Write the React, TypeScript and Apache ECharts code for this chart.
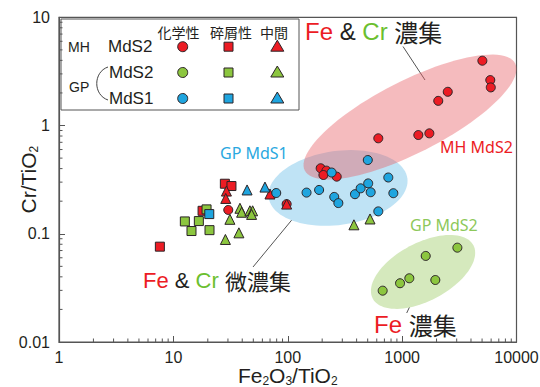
import React, { useEffect, useRef } from 'react';
import * as echarts from 'echarts';

const RED = '#ec1c24';
const GREEN = '#8cc63f';
const BLUE = '#1fa5df';
const EDGE = '#2b2326';
const LATIN = "'Liberation Sans', 'Noto Sans CJK JP', sans-serif";
const CJK = "'Noto Sans CJK JP', 'Liberation Sans', sans-serif";

const xTickLabels = ['1', '10', '100', '1000', '10000'];
const yTickLabels = ['0.01', '0.1', '1', '10'];

// [Fe2O3/TiO2, Cr/TiO2]
const mhMdS2Chemical = [
  [30.2, 0.166], [97.8, 0.188], [194, 0.403], [218, 0.383], [205, 0.349], [268, 0.337],
  [619, 0.762], [1386, 0.817], [1730, 0.847], [2070, 1.69], [2506, 2.05], [5030, 3.97],
  [5900, 2.63], [5960, 2.25],
];
const mhMdS2Detrital = [[7.62, 0.076], [18.0, 0.163], [28.2, 0.29], [32.2, 0.276]];
const mhMdS2Intermediate = [[29.1, 0.248], [28.7, 0.212], [69.9, 0.233], [97.8, 0.188]];

const gpMdS2Chemical = [[676, 0.0298], [959, 0.0349], [1156, 0.0388], [1608, 0.0624], [1951, 0.0374], [3041, 0.0744]];
const gpMdS2Detrital = [[12.6, 0.13], [16.7, 0.131], [14.4, 0.106], [20.7, 0.108], [19.5, 0.168]];
const gpMdS2Intermediate = [
  [31.2, 0.136], [28.5, 0.0886], [37.4, 0.102], [38.2, 0.172], [39.5, 0.158], [46.7, 0.163],
  [49.3, 0.163], [48.3, 0.151], [379, 0.121], [524, 0.137],
];

const gpMdS1Chemical = [
  [79.3, 0.238], [146, 0.24], [188, 0.254], [242, 0.368], [255, 0.219], [277, 0.192], [387, 0.232],
  [434, 0.263], [505, 0.292], [531, 0.242], [501, 0.48], [757, 0.331], [838, 0.237], [619, 0.161],
];
const gpMdS1Detrital = [[20.6, 0.152]];
const gpMdS1Intermediate = [[44.1, 0.254], [63.2, 0.27]];

// ellipse: centre, end of one semi-axis, end of the conjugate semi-axis (data units)
const mhMdS2Ellipse = [1172, 1.198, 9746, 3.745, 1629, 0.605];
const gpMdS1Ellipse = [275, 0.265, 1111, 0.3255, 305, 0.1216];
const gpMdS2Ellipse = [1524, 0.0444, 4198, 0.0783, 2004, 0.02576];

const xDecades = [1, 10, 100, 1000];
const yDecades = [0.01, 0.1, 1];
const minorSteps = [2, 3, 4, 5, 6, 7, 8, 9];

function tickLabel(labels: string[], base: number) {
  return (v: number) => {
    const i = Math.round(Math.log10(v)) - base;
    return labels[i] ?? '';
  };
}

function ellipseSeries(values: number[], fill: string, z: number) {
  return {
    type: 'custom',
    silent: true,
    z,
    clip: false,
    dimensions: ['cx', 'cy', 'mx', 'my', 'nx', 'ny'],
    encode: { x: [0, 2, 4], y: [1, 3, 5] },
    data: [values],
    renderItem: (_p: any, api: any) => {
      const c = api.coord([api.value(0), api.value(1)]);
      const m = api.coord([api.value(2), api.value(3)]);
      const n = api.coord([api.value(4), api.value(5)]);
      const pts: number[][] = [];
      for (let i = 0; i < 96; i++) {
        const t = (i / 96) * Math.PI * 2;
        pts.push([
          c[0] + Math.cos(t) * (m[0] - c[0]) + Math.sin(t) * (n[0] - c[0]),
          c[1] + Math.cos(t) * (m[1] - c[1]) + Math.sin(t) * (n[1] - c[1]),
        ]);
      }
      return { type: 'polygon', shape: { points: pts }, style: { fill } };
    },
  };
}

function scatterSeries(data: number[][], symbol: string, color: string, size: number, z: number) {
  return {
    type: 'scatter',
    data,
    symbol,
    symbolSize: size,
    z,
    silent: true,
    itemStyle: { color, borderColor: EDGE, borderWidth: 1, opacity: 1 },
  };
}

export default function App() {
  const ref = useRef<HTMLDivElement>(null);
  useEffect(() => {
    const chart = echarts.init(ref.current!, null, { renderer: 'svg' });

    const xMinor: number[][] = [];
    xDecades.forEach((d) => minorSteps.forEach((s) => xMinor.push([d * s, 0.01])));
    const yMinor: number[][] = [];
    yDecades.forEach((d) => minorSteps.forEach((s) => yMinor.push([1, d * s])));

    const tickSeries = (data: number[][], horizontal: boolean) => ({
      type: 'custom',
      silent: true,
      z: 1,
      clip: false,
      data,
      renderItem: (_p: any, api: any) => {
        const p = api.coord([api.value(0), api.value(1)]);
        return {
          type: 'line',
          shape: horizontal
            ? { x1: p[0], y1: p[1], x2: p[0] + 3.5, y2: p[1] }
            : { x1: p[0], y1: p[1], x2: p[0], y2: p[1] - 3.5 },
          style: { stroke: '#555', lineWidth: 1 },
        };
      },
    });

    const nameRich = {
      m: { fontSize: 21, lineHeight: 16, verticalAlign: 'top', fontFamily: LATIN, color: '#231f20' },
      s: { fontSize: 12, lineHeight: 10, padding: [10, 0, 0, 0], verticalAlign: 'top', fontFamily: LATIN, color: '#231f20' },
    };

    const legendText = (text: string, x: number, y: number, size: number, family = LATIN, align = 'left') => ({
      type: 'text',
      x,
      y,
      silent: true,
      style: { text, fill: '#231f20', fontSize: size, fontFamily: family, align, verticalAlign: 'middle' },
    });

    const annoRich = (size: number) => ({
      r: { fill: RED, fontSize: size, fontFamily: LATIN },
      g: { fill: '#6cbf2f', fontSize: size, fontFamily: LATIN },
      k: { fill: '#231f20', fontSize: size, fontFamily: LATIN },
      j: { fill: '#231f20', fontSize: size, fontFamily: CJK },
    });

    const triangle = (cx: number, cy: number, color: string) => ({
      type: 'polygon',
      silent: true,
      shape: { points: [[cx, cy - 6.5], [cx + 6.5, cy + 4.5], [cx - 6.5, cy + 4.5]] },
      style: { fill: color, stroke: EDGE, lineWidth: 1 },
    });
    const square = (cx: number, cy: number, color: string) => ({
      type: 'rect',
      silent: true,
      shape: { x: cx - 4.5, y: cy - 4.5, width: 9, height: 9 },
      style: { fill: color, stroke: EDGE, lineWidth: 1 },
    });
    const circle = (cx: number, cy: number, color: string) => ({
      type: 'circle',
      silent: true,
      shape: { cx, cy, r: 5 },
      style: { fill: color, stroke: EDGE, lineWidth: 1 },
    });

    const rows = [46.7, 72.5, 98.5];
    const rowColors = [RED, GREEN, BLUE];

    const graphic: any[] = [
      {
        type: 'rect',
        silent: true,
        shape: { x: 61, y: 19, width: 238, height: 91 },
        style: { fill: '#fff', stroke: '#555', lineWidth: 1 },
      },
      legendText('化学性', 178.5, 32, 14, CJK, 'center'),
      legendText('碎屑性', 231, 32, 14, CJK, 'center'),
      legendText('中間', 274, 32, 14, CJK, 'center'),
      legendText('MH', 68, rows[0], 14),
      legendText('MdS2', 108, rows[0], 17),
      legendText('GP', 69, 87, 14),
      legendText('MdS2', 109, rows[1], 17),
      legendText('MdS1', 109, rows[2], 17),
      {
        type: 'bezierCurve',
        silent: true,
        shape: { x1: 108, y1: 67, cpx1: 93, cpy1: 72, cpx2: 93, cpy2: 95, x2: 108, y2: 100 },
        style: { stroke: '#444', lineWidth: 1, fill: 'none' },
      },
      ...rows.flatMap((y, i) => [circle(182.7, y, rowColors[i]), square(228.5, y, rowColors[i]), triangle(277.3, y, rowColors[i])]),
      {
        type: 'text',
        x: 305,
        y: 31.7,
        silent: true,
        style: { text: '{r|Fe} {k|&} {g|Cr} {j|濃集}', rich: annoRich(24), fontSize: 24, fontFamily: LATIN, align: 'left', verticalAlign: 'middle' },
      },
      {
        type: 'text',
        x: 143,
        y: 280,
        silent: true,
        style: { text: '{r|Fe} {k|&} {g|Cr} {j|微濃集}', rich: annoRich(22), fontSize: 22, fontFamily: LATIN, align: 'left', verticalAlign: 'middle' },
      },
      {
        type: 'text',
        x: 374,
        y: 324,
        silent: true,
        style: { text: '{r|Fe} {j|濃集}', rich: annoRich(24), fontSize: 24, fontFamily: LATIN, align: 'left', verticalAlign: 'middle' },
      },
      {
        type: 'text', x: 440, y: 146.7, silent: true,
        style: { text: 'MH MdS2', fill: RED, fontSize: 16, fontFamily: "'Noto Sans', sans-serif", align: 'left', verticalAlign: 'middle' },
      },
      {
        type: 'text', x: 220, y: 153.3, silent: true,
        style: { text: 'GP MdS1', fill: '#2aa8e0', fontSize: 16, fontFamily: "'Noto Sans', sans-serif", align: 'left', verticalAlign: 'middle' },
      },
      {
        type: 'text', x: 410, y: 225, silent: true,
        style: { text: 'GP MdS2', fill: '#8dc85a', fontSize: 16, fontFamily: "'Noto Sans', sans-serif", align: 'left', verticalAlign: 'middle' },
      },
      { type: 'line', silent: true, shape: { x1: 403, y1: 46.5, x2: 425, y2: 80 }, style: { stroke: '#555', lineWidth: 1 } },
      { type: 'line', silent: true, shape: { x1: 253, y1: 267, x2: 300, y2: 210 }, style: { stroke: '#555', lineWidth: 1 } },
      { type: 'line', silent: true, shape: { x1: 406.7, y1: 313, x2: 416.7, y2: 292 }, style: { stroke: '#555', lineWidth: 1 } },
    ];

    const option: any = {
      animation: false,
      backgroundColor: '#fff',
      grid: {
        left: 59, right: 23.5, top: 17.3, bottom: 45,
        outerBoundsMode: 'none', containLabel: false,
        show: true, borderColor: '#555', borderWidth: 1.2, backgroundColor: 'transparent',
      },
      xAxis: {
        type: 'log',
        logBase: 10,
        min: 1,
        max: 10000,
        name: '{m|Fe}{s|2}{m|O}{s|3}{m|/TiO}{s|2}',
        nameLocation: 'middle',
        nameGap: 23,
        nameMoveOverlap: false,
        nameTextStyle: { rich: nameRich },
        axisLine: { lineStyle: { color: '#555', width: 1.2 } },
        axisTick: { inside: true, length: 6, lineStyle: { color: '#555' } },
        axisLabel: { formatter: tickLabel(xTickLabels, 0), fontSize: 16, fontFamily: LATIN, color: '#231f20', margin: 7 },
        splitLine: { show: false },
      },
      yAxis: {
        type: 'log',
        logBase: 10,
        min: 0.01,
        max: 10,
        name: '{m|Cr/TiO}{s|2}',
        nameLocation: 'middle',
        nameGap: 25,
        nameMoveOverlap: false,
        nameTextStyle: { rich: nameRich },
        axisLine: { lineStyle: { color: '#555', width: 1.2 } },
        axisTick: { inside: true, length: 6, lineStyle: { color: '#555' } },
        axisLabel: { formatter: tickLabel(yTickLabels, -2), fontSize: 16, fontFamily: LATIN, color: '#231f20', margin: 9 },
        splitLine: { show: false },
      },
      graphic,
      series: [
        ellipseSeries(gpMdS2Ellipse, '#d5e9bd', 0),
        ellipseSeries(gpMdS1Ellipse, '#bfe3f5', 0),
        ellipseSeries(mhMdS2Ellipse, 'rgba(232,92,100,0.42)', 0),
        tickSeries(xMinor, false),
        tickSeries(yMinor, true),
        scatterSeries(mhMdS2Detrital, 'rect', RED, 9, 3),
        scatterSeries(mhMdS2Chemical, 'circle', RED, 9, 3),
        scatterSeries(mhMdS2Intermediate, 'triangle', RED, 10, 3),
        scatterSeries(gpMdS2Detrital, 'rect', GREEN, 9, 4),
        scatterSeries(gpMdS2Chemical, 'circle', GREEN, 9, 4),
        scatterSeries(gpMdS2Intermediate, 'triangle', GREEN, 10, 4),
        scatterSeries(gpMdS1Detrital, 'rect', BLUE, 9, 5),
        scatterSeries(gpMdS1Chemical, 'circle', BLUE, 9, 5),
        scatterSeries(gpMdS1Intermediate, 'triangle', BLUE, 10, 5),
      ],
    };
    chart.setOption(option);
    return () => chart.dispose();
  }, []);
  return <div ref={ref} style={{ position: 'absolute', left: 0, top: 0, width: 540, height: 387 }} />;
}
